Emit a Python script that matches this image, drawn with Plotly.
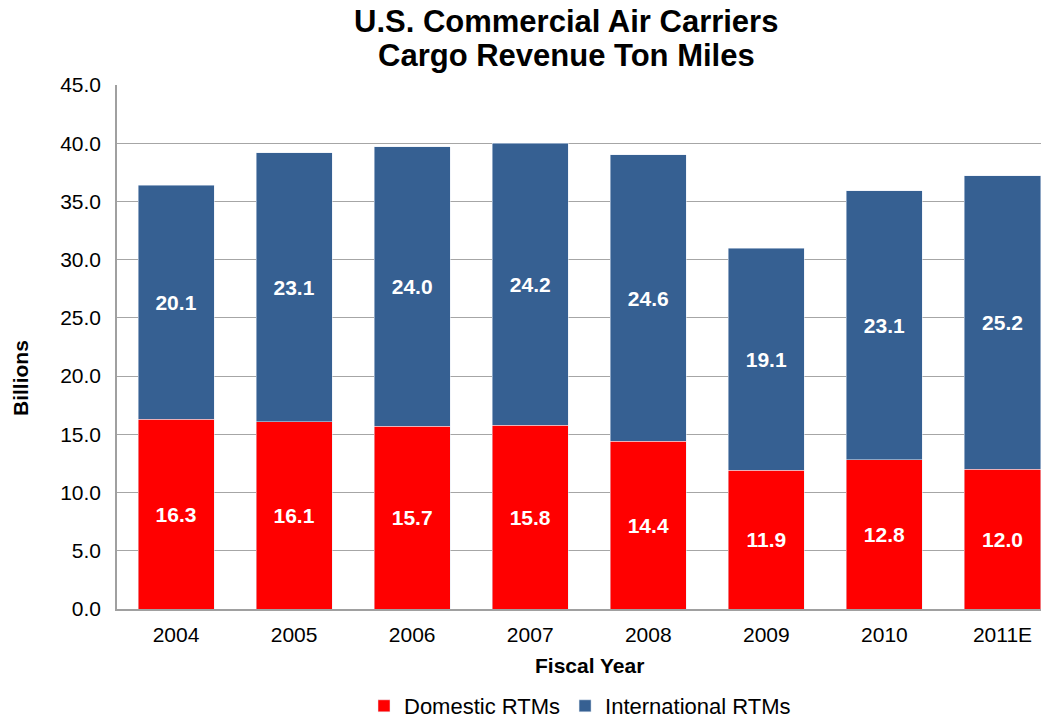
import plotly.graph_objects as go

years = ["2004", "2005", "2006", "2007", "2008", "2009", "2010", "2011E"]
domestic = [16.3, 16.1, 15.7, 15.8, 14.4, 11.9, 12.8, 12.0]
international = [20.1, 23.1, 24.0, 24.2, 24.6, 19.1, 23.1, 25.2]
y_ticks = [0, 5, 10, 15, 20, 25, 30, 35, 40, 45]
title_lines = ["U.S. Commercial Air Carriers", "Cargo Revenue Ton Miles"]

FONT = "Liberation Sans, Arial, sans-serif"
OFF = 8  # page body margin offset
W, H = 1049 - OFF, 719 - OFF
PLOT_L, PLOT_T, PLOT_B = 117 - OFF, 85 - OFF, 609 - OFF
PW, PH = W - PLOT_L, PLOT_B - PLOT_T


def px_to_paper_x(px):
    return (px - OFF - PLOT_L) / PW


def px_to_paper_y(py):
    return (PLOT_B - (py - OFF)) / PH


fig = go.Figure()
fig.add_trace(go.Bar(
    x=years, y=domestic, name="Domestic RTMs",
    marker=dict(color="#FF0000"),
    text=[f"{v:.1f}" for v in domestic], textposition="inside",
    insidetextanchor="middle",
    textfont=dict(family=FONT, size=21, color="white", weight="bold"),
))
fig.add_trace(go.Bar(
    x=years, y=international, name="International RTMs",
    marker=dict(color="#366092"),
    text=[f"{v:.1f}" for v in international], textposition="inside",
    insidetextanchor="middle",
    textfont=dict(family=FONT, size=21, color="white", weight="bold"),
))

fig.update_layout(
    barmode="stack",
    bargap=0.356,
    width=W, height=H,
    margin=dict(l=PLOT_L, r=0, t=PLOT_T, b=H - PLOT_B, autoexpand=False),
    plot_bgcolor="white", paper_bgcolor="white",
    font=dict(family=FONT, size=21, color="black"),
    legend=dict(
        orientation="h", x=px_to_paper_x(580), xanchor="center",
        y=px_to_paper_y(706), yanchor="middle",
        font=dict(family=FONT, size=22, color="black"),
        traceorder="normal",
    ),
    showlegend=True,
)

fig.update_xaxes(
    range=[-0.5, 7.394], automargin=False,
    showline=True, linecolor="#a0a0a0", linewidth=1.5,
    ticks="", ticklabelstandoff=6,
    tickfont=dict(family=FONT, size=21, color="black"),
)
fig.update_yaxes(
    range=[0, 45], tickvals=y_ticks, ticktext=[f"{v:.1f}" for v in y_ticks],
    automargin=False,
    showline=True, linecolor="#a0a0a0", linewidth=1.5,
    showgrid=True, gridcolor="#a6a6a6", gridwidth=1,
    ticks="", ticklabelstandoff=10,
    tickfont=dict(family=FONT, size=21, color="black"),
    zeroline=False,
)

for line, ypx in zip(title_lines, [21, 55.5]):
    fig.add_annotation(
        text=line, xref="paper", yref="paper",
        x=px_to_paper_x(566), y=px_to_paper_y(ypx),
        showarrow=False, xanchor="center", yanchor="middle",
        font=dict(family=FONT, size=31, color="black", weight="bold"),
    )

fig.add_annotation(
    text="Fiscal Year", xref="paper", yref="paper",
    x=px_to_paper_x(589), y=px_to_paper_y(665),
    showarrow=False, xanchor="center", yanchor="middle",
    font=dict(family=FONT, size=21, color="black", weight="bold"),
)

fig.add_annotation(
    text="Billions", xref="paper", yref="paper",
    x=px_to_paper_x(20), y=px_to_paper_y(378),
    textangle=-90, showarrow=False, xanchor="center", yanchor="middle",
    font=dict(family=FONT, size=21, color="black", weight="bold"),
)

fig.write_html("out.html")
